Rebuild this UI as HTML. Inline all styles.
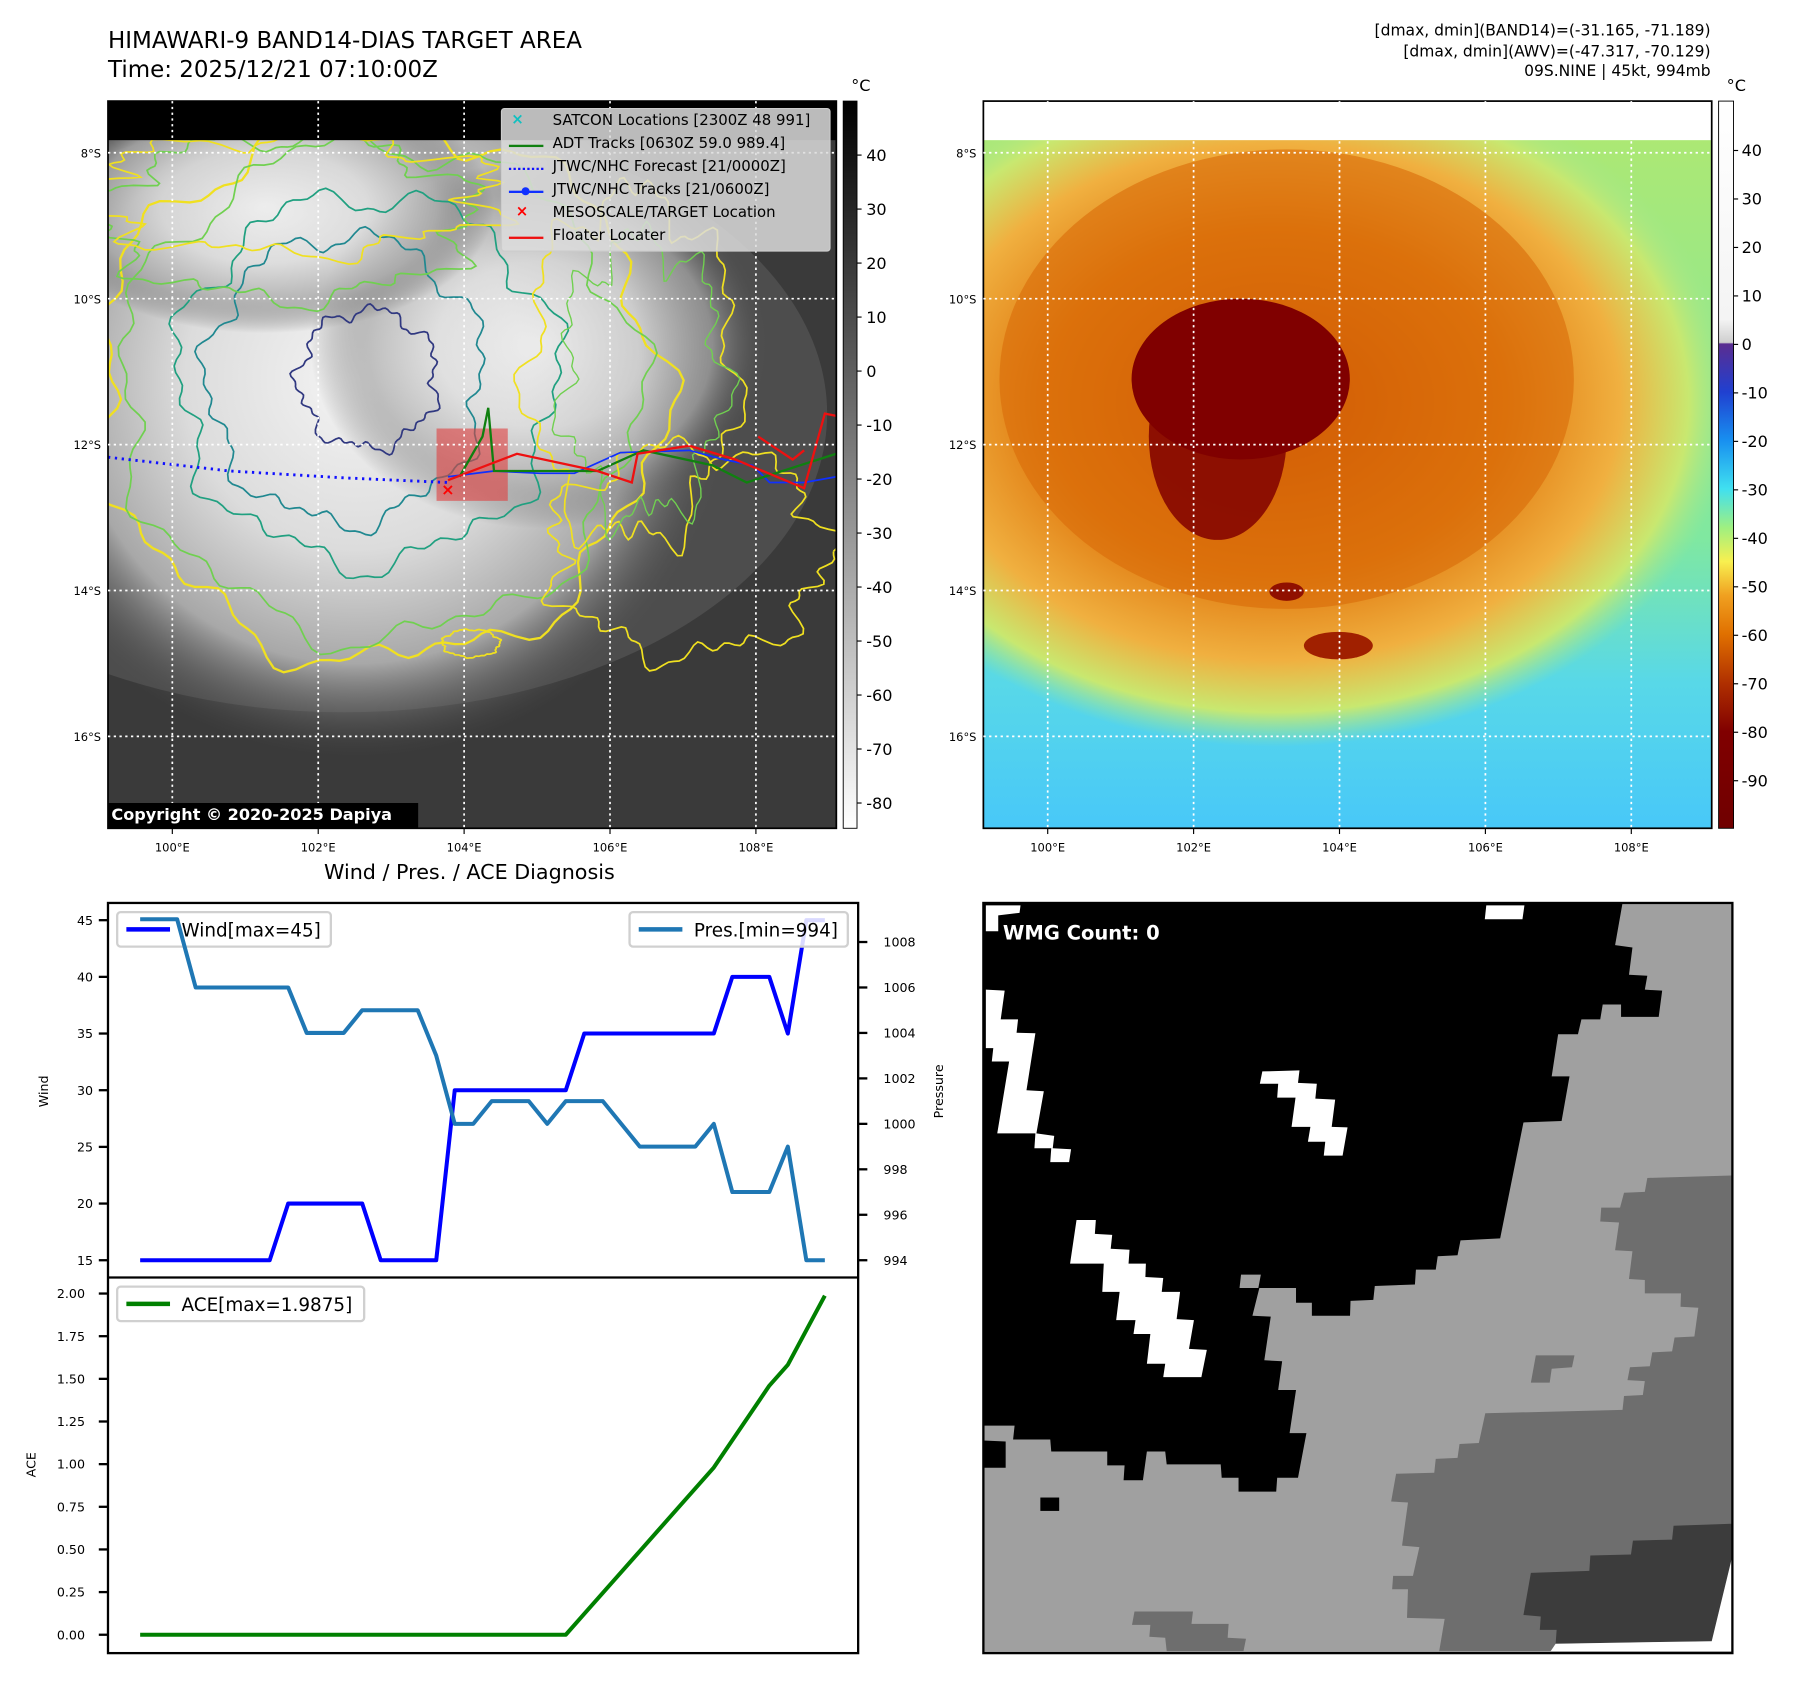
<!DOCTYPE html>
<html><head><meta charset="utf-8"><style>
html,body{margin:0;padding:0;background:#fff;overflow:hidden}
#root{position:absolute;left:0;top:0;width:1560px;height:1464px;transform:scale(1.1488,1.1488);transform-origin:0 0;font-family:"DejaVu Sans","Liberation Sans",sans-serif;color:#000}
.abs{position:absolute}
.t{position:absolute;white-space:nowrap}
</style></head><body>
<div id="root">
<div class="t" style="left:94px;top:23px;font-size:20px;line-height:25px">HIMAWARI-9 BAND14-DIAS TARGET AREA<br>Time: 2025/12/21 07:10:00Z</div>
<div class="t" style="right:71px;top:19px;font-size:13.5px;line-height:17.5px;text-align:right">[dmax, dmin](BAND14)=(-31.165, -71.189)<br>[dmax, dmin](AWV)=(-47.317, -70.129)<br>09S.NINE | 45kt, 994mb</div>
<svg class="abs" style="left:0;top:0" width="1560" height="1464" id="svgmain">
<defs>
<radialGradient id="cloudG" cx="0.5" cy="0.5" r="0.5">
<stop offset="0" stop-color="#f4f4f4"/><stop offset="0.45" stop-color="#dcdcdc"/><stop offset="0.75" stop-color="#a8a8a8"/><stop offset="1" stop-color="#4a4a4a" stop-opacity="0"/></radialGradient>
<radialGradient id="orG" cx="0.5" cy="0.5" r="0.5">
<stop offset="0" stop-color="#c84800"/><stop offset="0.5" stop-color="#e07a10"/><stop offset="0.75" stop-color="#f0b040"/><stop offset="0.9" stop-color="#c8e870"/><stop offset="1" stop-color="#a0e890" stop-opacity="0"/></radialGradient>
<linearGradient id="bgR" x1="0" y1="0" x2="0" y2="1"><stop offset="0" stop-color="#b0e870"/><stop offset="0.6" stop-color="#80e8a0"/><stop offset="0.8" stop-color="#58d8e8"/><stop offset="1" stop-color="#48c8f8"/></linearGradient>
<linearGradient id="cbL" x1="0" y1="0" x2="0" y2="1"><stop offset="0" stop-color="#000"/><stop offset="1" stop-color="#fff"/></linearGradient>
<linearGradient id="cbR" x1="0" y1="0" x2="0" y2="1">
<stop offset="0" stop-color="#fff"/><stop offset="0.30" stop-color="#f4f4f4"/><stop offset="0.332" stop-color="#cfcfcf"/><stop offset="0.334" stop-color="#5a2d90"/><stop offset="0.40" stop-color="#2040d0"/><stop offset="0.467" stop-color="#1890f0"/><stop offset="0.533" stop-color="#40e0f0"/><stop offset="0.587" stop-color="#a0f080"/><stop offset="0.633" stop-color="#f8f050"/><stop offset="0.68" stop-color="#f0a020"/><stop offset="0.733" stop-color="#e07000"/><stop offset="0.80" stop-color="#b03000"/><stop offset="0.867" stop-color="#800000"/><stop offset="1" stop-color="#700000"/></linearGradient>
<clipPath id="clipL"><rect x="94" y="88" width="634" height="633"/></clipPath>
<clipPath id="clipR"><rect x="856" y="88" width="634" height="633"/></clipPath>
</defs>
<g clip-path="url(#clipL)">
<rect x="94" y="88" width="634" height="633" fill="#3a3a3a"/>
<ellipse cx="300" cy="360" rx="420" ry="260" fill="#5a5a5a" opacity="0.6"/>
<ellipse cx="310" cy="330" rx="330" ry="330" fill="url(#cloudG)"/>
<ellipse cx="470" cy="300" rx="200" ry="160" fill="url(#cloudG)" opacity="0.7"/>
<ellipse cx="230" cy="180" rx="200" ry="110" fill="url(#cloudG)" opacity="0.8"/>
<g id="contours"></g>
<rect x="94" y="88" width="634" height="34" fill="#000"/>
<rect x="380" y="373" width="62" height="63" fill="#e04040" opacity="0.6"/>
<polyline points="94,398 200,410 300,416 390,420" fill="none" stroke="#1010ff" stroke-width="2.5" stroke-dasharray="2,4"/>
<polyline points="390,415 430,410 470,412 500,412 540,394 600,392 630,400 655,405 670,420 700,420 728,415" fill="none" stroke="#1030ff" stroke-width="1.5"/>
<polyline points="400,415 420,380 425,355 430,410 520,410 560,392 620,405 650,420 728,395" fill="none" stroke="#108010" stroke-width="2"/>
<polyline points="390,418 450,395 520,410 550,420 555,395 600,388 640,400 700,425 718,360 728,362" fill="none" stroke="#ee1010" stroke-width="2"/>
<polyline points="660,380 690,400 700,392" fill="none" stroke="#ee1010" stroke-width="2"/>
<text x="384" y="431" fill="#f00" font-size="14" font-weight="bold">×</text>
</g>
<rect x="94" y="88" width="634" height="633" fill="none" stroke="#000" stroke-width="1.5"/>
<g clip-path="url(#clipR)">
<rect x="856" y="88" width="634" height="633" fill="url(#bgR)"/>
<ellipse cx="1110" cy="350" rx="400" ry="300" fill="url(#orG)"/>
<ellipse cx="1120" cy="330" rx="250" ry="200" fill="#d86a08" opacity="0.6"/>
<ellipse cx="1080" cy="330" rx="95" ry="70" fill="#800000"/>
<ellipse cx="1060" cy="380" rx="60" ry="90" fill="#800000" opacity="0.85"/>
<ellipse cx="1165" cy="562" rx="30" ry="12" fill="#a02000"/>
<ellipse cx="1120" cy="515" rx="15" ry="8" fill="#901000"/>
<rect x="856" y="88" width="634" height="34" fill="#fff"/>
</g>
<rect x="856" y="88" width="634" height="633" fill="none" stroke="#000" stroke-width="1.5"/>
<g id="grids"></g>
<rect x="734" y="88" width="12" height="633" fill="url(#cbL)" stroke="#000" stroke-width="0.8"/>
<rect x="1496" y="88" width="13" height="633" fill="url(#cbR)" stroke="#000" stroke-width="0.8"/>
<g id="cbticks" font-size="14"></g>
<g transform="translate(856,786) scale(0.4313)">
<svg x="0" y="0" width="1512" height="1512" viewBox="5 5 1512 1512">
<rect x="5" y="5" width="1512" height="1512" fill="#a0a0a0"/>
<polygon fill="#000" points="5,5 1295,5 1280,90 1315,95 1308,150 1345,152 1340,180 1375,182 1368,235 1292,235 1292,210 1255,210 1250,240 1212,240 1205,270 1165,270 1152,355 1188,355 1172,445 1095,448 1048,682 968,686 962,716 922,718 918,745 878,745 876,775 795,778 792,806 746,808 745,838 668,838 668,812 636,812 636,782 562,782 548,838 585,840 572,928 608,930 600,988 636,988 623,1075 657,1075 640,1165 598,1165 596,1193 520,1193 520,1165 486,1165 484,1138 375,1138 372,1112 335,1112 327,1170 288,1170 290,1140 255,1140 255,1112 142,1112 140,1088 65,1088 68,1060 5,1060"/>
<rect x="120" y="1205" width="38" height="27" fill="#000"/>
<polygon fill="#000" points="5,1090 50,1092 50,1145 5,1145"/>
<polygon fill="#6e6e6e" points="1515,555 1345,560 1340,588 1298,590 1290,620 1252,620 1250,648 1288,650 1280,706 1315,708 1308,764 1340,766 1340,793 1413,793 1412,820 1448,822 1440,880 1400,882 1395,910 1355,912 1350,940 1310,942 1305,968 1340,970 1336,998 1298,1000 1295,1028 1018,1035 1005,1095 966,1097 962,1125 918,1127 915,1155 838,1157 828,1213 862,1215 850,1302 885,1305 872,1363 832,1363 830,1390 862,1390 860,1448 936,1450 925,1515 1515,1515"/>
<polygon fill="#6e6e6e" points="1120,918 1198,918 1193,942 1152,945 1148,973 1110,973"/>
<polygon fill="#6e6e6e" points="310,1435 428,1435 425,1460 500,1460 498,1488 535,1490 530,1515 375,1515 372,1488 340,1486 342,1462 305,1462"/>
<polygon fill="#3c3c3c" points="1515,1258 1398,1262 1395,1290 1316,1292 1312,1320 1230,1322 1228,1353 1110,1357 1095,1442 1130,1445 1128,1472 1162,1472 1160,1500 1475,1495 1515,1330"/>
<polygon fill="#fff" points="1515,1330 1475,1495 1160,1500 1150,1515 1515,1515"/>
<polygon fill="#fff" points="10,180 48,182 40,240 75,240 72,267 110,268 92,383 127,385 112,470 148,475 145,500 182,502 178,528 140,528 142,500 108,500 110,470 33,470 57,325 22,325 25,298 10,298"/>
<polygon fill="#fff" points="568,345 643,343 640,368 678,370 675,400 715,402 708,457 740,458 730,515 692,515 695,487 660,487 665,457 627,457 635,398 598,398 600,370 563,370"/>
<polygon fill="#fff" points="193,645 232,645 230,673 265,675 262,703 300,705 298,733 333,733 332,760 368,762 365,790 402,790 395,845 430,847 420,905 456,907 445,962 368,962 372,935 335,935 342,875 308,875 312,847 273,847 280,790 245,790 248,733 180,733"/>
<polygon fill="#fff" points="1020,10 1097,10 1093,38 1017,38"/>
<polygon fill="#fff" points="10,10 80,10 78,25 35,30 35,62 10,62"/>
<polygon fill="#a0a0a0" points="525,755 565,755 560,782 522,782"/>
</svg>
</g>
<rect x="856" y="786" width="652" height="653" fill="none" stroke="#000" stroke-width="2"/>
<text x="873" y="818" fill="#fff" font-size="17" font-weight="bold">WMG Count: 0</text>
<g id="chart"></g>
</svg>
<div class="abs" style="left:436px;top:94px;width:285px;height:123px;background:rgba(220,220,220,0.85);border:1px solid #ccc;border-radius:3px;font-size:13px">
<div class="t" style="left:8px;top:2px;color:#10c0c0;font-weight:bold">×</div><div class="t" style="left:44px;top:3px">SATCON Locations [2300Z 48 991]</div>
<div class="abs" style="left:6px;top:31px;width:30px;height:2px;background:#108010"></div><div class="t" style="left:44px;top:23px">ADT Tracks [0630Z 59.0 989.4]</div>
<div class="abs" style="left:6px;top:51px;width:30px;border-top:2.5px dotted #1010ff"></div><div class="t" style="left:44px;top:43px">JTWC/NHC Forecast [21/0000Z]</div>
<div class="abs" style="left:6px;top:71px;width:30px;height:2px;background:#1030ff"></div><div class="abs" style="left:17px;top:68px;width:7px;height:7px;border-radius:50%;background:#1030ff"></div><div class="t" style="left:44px;top:63px">JTWC/NHC Tracks [21/0600Z]</div>
<div class="t" style="left:12px;top:82px;color:#f00;font-weight:bold">×</div><div class="t" style="left:44px;top:83px">MESOSCALE/TARGET Location</div>
<div class="abs" style="left:6px;top:111px;width:30px;height:2px;background:#ee1010"></div><div class="t" style="left:44px;top:103px">Floater Locater</div>
</div>
<div class="t" style="left:94px;top:699px;width:270px;height:22px;background:#000;color:#fff;font-size:14px;font-weight:bold;line-height:22px;padding-left:3px;box-sizing:border-box">Copyright © 2020-2025 Dapiya</div>
<div class="t" style="left:741px;top:67px;font-size:14px">°C</div>
<div class="t" style="left:1503px;top:67px;font-size:14px">°C</div>
<div class="t" style="left:282px;top:749px;font-size:18px">Wind / Pres. / ACE Diagnosis</div>
</div>
<script>
const windValues = [15,15,15,15,15,15,15,15,20,20,20,20,20,15,15,15,15,30,30,30,30,30,30,30,35,35,35,35,35,35,35,35,40,40,40,35,45,45];
const presValues = [1009,1009,1009,1006,1006,1006,1006,1006,1006,1004,1004,1004,1005,1005,1005,1005,1003,1000,1000,1001,1001,1001,1000,1001,1001,1001,1000,999,999,999,999,1000,997,997,997,999,994,994];
const aceValues = [0,0,0,0,0,0,0,0,0,0,0,0,0,0,0,0,0,0,0,0,0,0,0,0,0.1225,0.245,0.3675,0.49,0.6125,0.735,0.8575,0.98,1.14,1.30,1.46,1.5825,1.785,1.9875];
const windTicks = [15,20,25,30,35,40,45];
const presTicks = [994,996,998,1000,1002,1004,1006,1008];
const aceTicks = [0,0.25,0.5,0.75,1.0,1.25,1.5,1.75,2.0];
const latTicks = ["8°S","10°S","12°S","14°S","16°S"];
const lonTicks = ["100°E","102°E","104°E","106°E","108°E"];
const cbLTicks = [40,30,20,10,0,-10,-20,-30,-40,-50,-60,-70,-80];
const cbRTicks = [40,30,20,10,0,-10,-20,-30,-40,-50,-60,-70,-80,-90];

const NS='http://www.w3.org/2000/svg';
function mk(tag,attrs,parent){const e=document.createElementNS(NS,tag);for(const k in attrs)e.setAttribute(k,attrs[k]);parent.appendChild(e);return e;}
const X0=94,X1=747,T=786,M=1112,B=1439;
const px0=122,px1=718;
const xS=i=>px0+(px1-px0)*i/(windValues.length-1);
const yW=v=>1097-(v-15)*(1097-801)/30;
const yP=v=>1097-(v-994)*(1097-820)/14;
const yA=v=>1423-v*(1423-1126)/2;
const ch=document.getElementById('chart');
function line(vals,fy,color,w,name){
  const p=mk('polyline',{points:vals.map((v,i)=>xS(i)+','+fy(v)).join(' '),fill:'none',stroke:color,'stroke-width':w,'stroke-linejoin':'round'},ch);
  
  
}
function legend(x,y,w,txt,color,name){const g=mk('g',{},ch);
 mk('rect',{x:x,y:y,width:w,height:30,rx:3,fill:'#fff','fill-opacity':0.85,stroke:'#d0d0d0','stroke-width':2},g);
 mk('line',{x1:x+8,y1:y+15,x2:x+46,y2:y+15,stroke:color,'stroke-width':4},g);
 const t=mk('text',{x:x+56,y:y+21,'font-size':16},g);t.textContent=txt;}
mk('rect',{x:X0,y:T,width:X1-X0,height:B-T,fill:'#fff',stroke:'#000','stroke-width':2},ch);
mk('line',{x1:X0,y1:M,x2:X1,y2:M,stroke:'#000','stroke-width':2},ch);
line(windValues,yW,'#0000ff',3.5,'wind-line');
legend(102,794,186,'Wind[max=45]','#0000ff','wind-legend');
line(presValues,yP,'#1f77b4',3.5,'pressure-line');
legend(548,794,190,'Pres.[min=994]','#1f77b4','pressure-legend');
line(aceValues,yA,'#008000',3.5,'ace-line');
legend(102,1120,215,'ACE[max=1.9875]','#008000','ace-legend');
windTicks.forEach(v=>{const y=yW(v);mk('line',{x1:X0-8,y1:y,x2:X0,y2:y,stroke:'#000','stroke-width':2},ch);const t=mk('text',{x:X0-13,y:y+4,'font-size':11,'text-anchor':'end'},ch);t.textContent=v;});
presTicks.forEach(v=>{const y=yP(v);mk('line',{x1:X1,y1:y,x2:X1+8,y2:y,stroke:'#000','stroke-width':2},ch);const t=mk('text',{x:X1+22,y:y+4,'font-size':11},ch);t.textContent=v;});
aceTicks.forEach(v=>{const y=yA(v);mk('line',{x1:X0-8,y1:y,x2:X0,y2:y,stroke:'#000','stroke-width':2},ch);const t=mk('text',{x:X0-20,y:y+4,'font-size':11,'text-anchor':'end'},ch);t.textContent=v.toFixed(2);});
function rot(txt,x,y,name){const t=mk('text',{x:x,y:y,'font-size':11,'text-anchor':'middle',transform:'rotate(-90 '+x+' '+y+')'},ch);t.textContent=txt;}
rot('Wind',42,950,'wind-axis-title');rot('Pressure',821,950,'pressure-axis-title');rot('ACE',31,1275,'ace-axis-title');
const gr=document.getElementById('grids');
[0,762].forEach(off=>{
 lonTicks.forEach((s,i)=>{const x=150+127*i+off;mk('line',{x1:x,y1:88,x2:x,y2:721,stroke:'#fff','stroke-width':1.5,'stroke-dasharray':'2,3'},gr);mk('line',{x1:x,y1:721,x2:x,y2:726,stroke:'#000'},gr);const t=mk('text',{x:x,y:741,'font-size':10,'text-anchor':'middle'},gr);t.textContent=s;});
 latTicks.forEach((s,i)=>{const y=133+127*i;mk('line',{x1:94+off,y1:y,x2:728+off,y2:y,stroke:'#fff','stroke-width':1.5,'stroke-dasharray':'2,3'},gr);const t=mk('text',{x:88+off,y:y+4,'font-size':10,'text-anchor':'end'},gr);t.textContent=s;});
});
const cb=document.getElementById('cbticks');
cbLTicks.forEach(v=>{const y=135+(40-v)*4.7;mk('line',{x1:746,y1:y,x2:750,y2:y,stroke:'#000'},cb);const t=mk('text',{x:754,y:y+5},cb);t.textContent=v;});
cbRTicks.forEach(v=>{const y=131+(40-v)*4.22;mk('line',{x1:1509,y1:y,x2:1513,y2:y,stroke:'#000'},cb);const t=mk('text',{x:1516,y:y+5},cb);t.textContent=v;});
const co=document.getElementById('contours');
function jag(cx,cy,rx,ry,amp,seed,color,w){let pts=[];for(let k=0;k<=180;k++){const a=k/180*Math.PI*2;const r=1+amp*(Math.sin(a*7+seed)*0.5+Math.sin(a*13+seed*2)*0.3+Math.sin(a*29+seed*3)*0.2);pts.push((cx+rx*r*Math.cos(a)).toFixed(1)+','+(cy+ry*r*Math.sin(a)).toFixed(1));}
 mk('polyline',{points:pts.join(' '),fill:'none',stroke:color,'stroke-width':w},co);}
jag(330,340,245,235,0.1,1,'#f0e020',2);
jag(330,340,225,215,0.1,2,'#70d050',1.5);
jag(320,330,165,160,0.12,3,'#20a080',1.5);
jag(300,330,120,125,0.12,4,'#208890',1.5);
jag(320,330,60,60,0.15,5,'#303880',1.5);
jag(550,320,90,150,0.2,6,'#f0e020',1.5);
jag(560,330,70,120,0.25,7,'#70d050',1.2);
jag(600,480,120,90,0.2,8,'#f0e020',1.5);
jag(410,560,25,12,0.1,9,'#f0e020',1.5);
jag(250,190,160,70,0.2,10,'#70d050',1.5);
jag(250,170,180,50,0.25,11,'#f0e020',1.5);
</script>
</body></html>
